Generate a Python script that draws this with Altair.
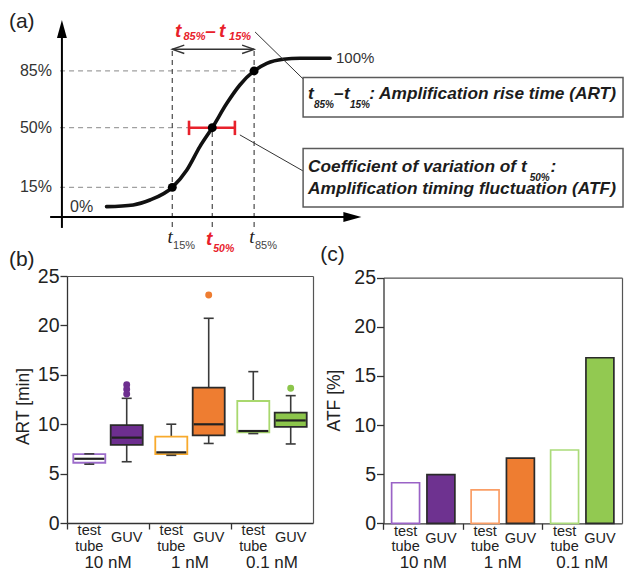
import altair as alt
import pandas as pd

W, H = 616, 565
SANS = "Liberation Sans"
SERIF = "Liberation Serif"
RED = "#E8212B"
INK = "#1c1c1c"
LINE = "#3a3a3a"

# ------------------------------------------------------------------ data
# (a) schematic amplification curve, in arbitrary diagram units
curve_t = [17.6, 26.2, 31.6, 38.8, 43.5, 47.7, 51.7, 56.4, 60.6, 65.2, 69.3, 74.6, 80.0, 89.7]
curve_s = [5.3, 6.2, 8.7, 15.2, 24.1, 36.1, 45.8, 58.3, 67.7, 74.9, 78.8, 80.9, 81.4, 81.4]
mark_names = ["15%", "50%", "85%"]
mark_t = [38.8, 51.7, 65.2]
mark_s = [15.2, 45.8, 74.9]
level_names = ["0%", "100%"]
level_s = [5.3, 81.4]
t50_range = [44.2, 59.0]

# (b) ART box-plot statistics [min], (c) ATF [%]
groups = ["10 nM", "1 nM", "0.1 nM"]
types = ["test tube", "GUV"]
art_low = [5.95, 6.20, 6.85, 8.05, 9.05, 8.00]
art_q1 = [6.10, 7.90, 6.98, 8.87, 9.18, 9.72]
art_med = [6.50, 8.64, 7.15, 9.99, 9.31, 10.38]
art_q3 = [6.98, 9.90, 8.74, 13.70, 12.35, 11.17]
art_high = [7.00, 12.62, 10.00, 20.72, 15.32, 12.89]
outlier_group = ["10 nM", "10 nM", "10 nM", "1 nM", "0.1 nM"]
outlier_art = [14.0, 13.55, 13.05, 23.08, 13.63]
atf = [4.13, 4.96, 3.40, 6.63, 7.46, 16.85]

keys = [f"{g}|{t}" for g in groups for t in types]
b_fill = ["white", "#6D2E8F", "white", "#EE7D31", "white", "#8CC54B"]
b_stroke = ["#9C6CCA", "#2a2a2a", "#F8AA2C", "#2a2a2a", "#A9D86E", "#2a2a2a"]
c_fill = ["white", "#6E3290", "white", "#EE7D31", "white", "#92C951"]
c_stroke = ["#9A63C6", "#2a2a2a", "#FA9E66", "#2a2a2a", "#ABDB7A", "#2a2a2a"]

stats = pd.DataFrame({
    "group": [g for g in groups for _ in types],
    "type": types * len(groups),
    "key": keys,
    "low": art_low, "q1": art_q1, "med": art_med, "q3": art_q3, "high": art_high,
    "atf": atf,
})
outliers = pd.DataFrame({"group": outlier_group, "type": "GUV", "art": outlier_art})
outliers["key"] = outliers["group"] + "|" + outliers["type"]

# ------------------------------------------------------------------ (a)
AX = alt.Scale(domain=[0, 100], range=[44, 354])
AY = alt.Scale(domain=[0, 100], range=[209, 14])


def ax(f):
    return alt.X(f, type="quantitative", scale=AX, axis=None)


def ay(f):
    return alt.Y(f, type="quantitative", scale=AY, axis=None)


def a_rules(rows, **kw):
    df = pd.DataFrame(rows, columns=["x", "y", "x2", "y2"])
    return alt.Chart(df).mark_rule(**kw).encode(x=ax("x"), y=ay("y"), x2="x2:Q", y2="y2:Q")


def a_rects(rows, **kw):
    df = pd.DataFrame(rows, columns=["x", "y", "x2", "y2"])
    return alt.Chart(df).mark_rect(**kw).encode(x=ax("x"), y=ay("y"), x2="x2:Q", y2="y2:Q")


def a_points(rows, **kw):
    df = pd.DataFrame(rows, columns=["x", "y"])
    return alt.Chart(df).mark_point(**kw).encode(x=ax("x"), y=ay("y"))


def a_texts(rows, **kw):
    df = pd.DataFrame(rows, columns=["x", "y", "text"])
    return alt.Chart(df).mark_text(**kw).encode(x=ax("x"), y=ay("y"), text="text:N")


curve_df = pd.DataFrame({"t": curve_t, "s": curve_s})

a_layers = [
    a_rules([(2.6, s, t, s) for t, s in zip(mark_t, mark_s)],
            color="#a0a0a0", strokeDash=[5, 4], strokeWidth=1.2),
    a_rules([(mark_t[0], -5.1, mark_t[0], 86.0), (mark_t[2], -5.1, mark_t[2], 86.0),
             (mark_t[1], -5.1, mark_t[1], mark_s[1])],
            color="#4a4a4a", strokeDash=[5, 4], strokeWidth=1.2),
    a_rules([(3.2, -5.6, 3.2, 96.0), (-0.6, 0, 97.0, 0)], color="black", strokeWidth=2),
    a_points([(3.2, 96.4)], shape="M0,-1L0.55,1L-0.55,1Z", size=324, filled=True,
             color="black", opacity=1, strokeWidth=0),
    a_points([(96.9, 0)], shape="M1,0L-1,0.55L-1,-0.55Z", size=324, filled=True,
             color="black", opacity=1, strokeWidth=0),
    alt.Chart(curve_df).mark_line(interpolate="monotone", strokeWidth=3.6, color="#111",
                                  strokeCap="round").encode(x=ax("t"), y=ay("s")),
    a_rules([(t50_range[0], mark_s[1], t50_range[1], mark_s[1]),
             (t50_range[0], 42.0, t50_range[0], 49.4),
             (t50_range[1], 42.0, t50_range[1], 49.4)], color=RED, strokeWidth=2.6),
    a_points(list(zip(mark_t, mark_s)), shape="circle", size=80, filled=True,
             color="black", opacity=1, strokeWidth=0),
    a_rules([(mark_t[0], 86.0, mark_t[2], 86.0)], color="#333", strokeWidth=1.4),
    a_points([(mark_t[0], 86.0)], shape="M2,-0.7L0,0L2,0.7", size=144, filled=False,
             color="#333", strokeWidth=1.4, opacity=1),
    a_points([(mark_t[2], 86.0)], shape="M-2,-0.7L0,0L-2,0.7", size=144, filled=False,
             color="#333", strokeWidth=1.4, opacity=1),
    a_rules([(65.5, 94.9, 81.0, 70.8), (60.6, 42.1, 81.0, 23.6)], color="#333", strokeWidth=1),
    a_rects([(81.0, 71.5, 184.2, 51.3), (81.0, 35.1, 184.2, 5.1)],
            fill="white", stroke="#5a5a5a", strokeWidth=1.5),
    # level labels
    a_texts([(0, s, n) for n, s in zip(mark_names, mark_s)], align="right", baseline="middle",
            fontSize=16, color="#333"),
    a_texts([(5.8, level_s[0], level_names[0])], align="left", baseline="middle",
            fontSize=16, color="#333"),
    a_texts([(91.6, level_s[1], level_names[1])], align="left", baseline="middle",
            fontSize=15, color="#333"),
    # panel letters
    a_texts([(-13.9, 100.0, "(a)"), (-13.9, -22.1, "(b)"), (86.5, -19.5, "(c)")],
            align="left", baseline="middle", fontSize=21, color="#222"),
    # time labels under the axis
    a_texts([(mark_t[0] + 0.15, -13.5, "t"), (mark_t[2] + 0.15, -13.5, "t")], align="right",
            baseline="alphabetic", font=SERIF, fontStyle="italic", fontSize=19, color="#222"),
    a_texts([(mark_t[0] + 0.25, -16.4, mark_names[0]), (mark_t[2] + 0.25, -16.4, mark_names[2])],
            align="left", baseline="alphabetic", fontSize=11, color="#444"),
    a_texts([(mark_t[1], -14.4, "t")], align="right", baseline="alphabetic", fontStyle="italic",
            fontWeight="bold", fontSize=19, color=RED),
    a_texts([(mark_t[1] + 0.3, -17.9, mark_names[1])], align="left", baseline="alphabetic",
            fontStyle="italic", fontWeight="bold", fontSize=10.5, color=RED),
    # red span label
    a_texts([(39.7, 92.3, "t"), (49.4, 92.3, "\u2013"), (53.9, 92.3, "t")], align="left",
            baseline="alphabetic", fontStyle="italic", fontWeight="bold", fontSize=19, color=RED),
    a_texts([(42.4, 90.8, "85%"), (57.1, 90.8, "15%")], align="left", baseline="alphabetic",
            fontStyle="italic", fontWeight="bold", fontSize=11, color=RED),
    # boxed definitions
    a_texts([(82.6, 60.6, "t"), (91.0, 60.6, "\u2013"), (94.2, 60.6, "t"),
             (102.3, 60.6, ": Amplification rise time (ART)"),
             (82.6, 23.0, "Coefficient of variation of t"), (160.8, 23.0, ":"),
             (82.6, 11.8, "Amplification timing fluctuation (ATF)")],
            align="left", baseline="alphabetic", fontStyle="italic", fontWeight="bold",
            fontSize=17.3, color=INK),
    a_texts([(84.5, 55.9, "85%"), (96.1, 55.9, "15%"), (154.1, 18.6, "50%")],
            align="left", baseline="alphabetic", fontStyle="italic", fontWeight="bold",
            fontSize=10, color=INK),
]

# ------------------------------------------------------------------ (b), (c)
tick_text = pd.DataFrame({
    "group": [g for g in groups for _ in range(3)],
    "type": ["test tube", "test tube", "GUV"] * len(groups),
    "text": ["test", "tube", "GUV"] * len(groups),
    "lv": [-0.86, -2.40, -1.55] * len(groups),
})
group_text = pd.DataFrame({"group": groups, "lv": [-4.6] * len(groups)})


def y_axis(offset, title, tx, ty):
    return alt.Axis(orient="left", offset=offset, values=[0, 5, 10, 15, 20, 25], grid=False,
                    tickSize=7, tickWidth=1.3, tickColor="#333", domainColor="#333",
                    domainWidth=1.3, labelFontSize=19.5, labelColor="#222", labelPadding=1,
                    title=title, titleFontSize=17.5, titleFontWeight="normal",
                    titleColor="#222", titleX=tx, titleY=ty)


def x_axis(offset):
    return alt.Axis(orient="bottom", offset=offset, bandPosition=0, labels=False, title=None,
                    grid=False, tickSize=6, tickWidth=1.3, tickColor="#333",
                    domainColor="#333", domainWidth=1.3)


def frame_axis(orient, offset):
    return alt.Axis(orient=orient, offset=offset, labels=False, ticks=False, title=None,
                    grid=False, domainColor="#555", domainWidth=1.2)


def panel(kind, xr, pin, pout, yr, fills, strokes, title, tx, ty, right_off):
    XS = alt.Scale(type="band", domain=groups, range=xr, paddingInner=0, paddingOuter=0)
    XOS = alt.Scale(type="band", domain=types, paddingInner=pin, paddingOuter=pout)
    YS = alt.Scale(domain=[0, 25], range=yr, nice=False, zero=False)
    bottom_off = yr[0] - H
    top_off = -yr[1]

    def x(axis=None):
        return alt.X("group:N", scale=XS, axis=axis)

    def xo():
        return alt.XOffset("type:N", scale=XOS)

    def y(f, axis=None):
        return alt.Y(f, type="quantitative", scale=YS, axis=axis)

    fill = alt.Fill("key:N", scale=alt.Scale(domain=keys, range=fills), legend=None)
    stroke = alt.Stroke("key:N", scale=alt.Scale(domain=keys, range=strokes), legend=None)
    base = alt.Chart(stats)
    layers = []
    if kind == "box":
        layers += [
            base.mark_rule(color=LINE, strokeWidth=1.6).encode(x=x(), xOffset=xo(), y=y("low"), y2="q1:Q"),
            base.mark_rule(color=LINE, strokeWidth=1.6).encode(x=x(), xOffset=xo(), y=y("q3"), y2="high:Q"),
            base.mark_bar(strokeWidth=1.8).encode(
                x=x(x_axis(bottom_off)), xOffset=xo(),
                y=y("q1", y_axis(-xr[0], title, tx, ty)), y2="q3:Q", fill=fill, stroke=stroke),
            base.mark_tick(size=30, thickness=2.2, color="#222", opacity=1).encode(
                x=x(), xOffset=xo(), y=y("med")),
            base.mark_tick(size=10, thickness=1.6, color=LINE, opacity=1).encode(
                x=x(), xOffset=xo(), y=y("low")),
            base.mark_tick(size=10, thickness=1.6, color=LINE, opacity=1).encode(
                x=x(), xOffset=xo(), y=y("high")),
            alt.Chart(outliers).mark_circle(size=48, opacity=1).encode(
                x=x(), xOffset=xo(), y=y("art"), fill=fill),
        ]
    else:
        layers += [
            base.mark_bar(strokeWidth=1.7).encode(
                x=x(x_axis(bottom_off)), xOffset=xo(),
                y=y("atf", y_axis(-xr[0], title, tx, ty)), fill=fill, stroke=stroke),
        ]
    layers += [
        alt.Chart(tick_text).mark_text(fontSize=14.5, color="#222", baseline="middle").encode(
            x=x(frame_axis("top", top_off)), xOffset=xo(),
            y=y("lv", frame_axis("right", right_off)), text="text:N"),
        alt.Chart(group_text).mark_text(fontSize=17, color="#222", baseline="alphabetic").encode(
            x=x(), y=y("lv"), text="group:N"),
    ]
    return layers


b_layers = panel("box", [59, 305], 0.144, 0.168, [515, 268], b_fill, b_stroke,
                 "ART [min]", -35, 398, 305 - W)
c_layers = panel("bar", [375.5, 614], 0.209, 0.23, [515.3, 269.7], c_fill, c_stroke,
                 "ATF [%]", -40, 392, 614 - W)

chart = alt.layer(*a_layers, *b_layers, *c_layers).properties(
    width=W, height=H, padding=0, autosize=alt.AutoSizeParams(type="none")
).resolve_scale(
    x="independent", y="independent", xOffset="independent",
    fill="independent", stroke="independent"
).configure(font=SANS).configure_view(stroke=None)

chart.save("out.html", embed_options={"renderer": "svg", "actions": False})
